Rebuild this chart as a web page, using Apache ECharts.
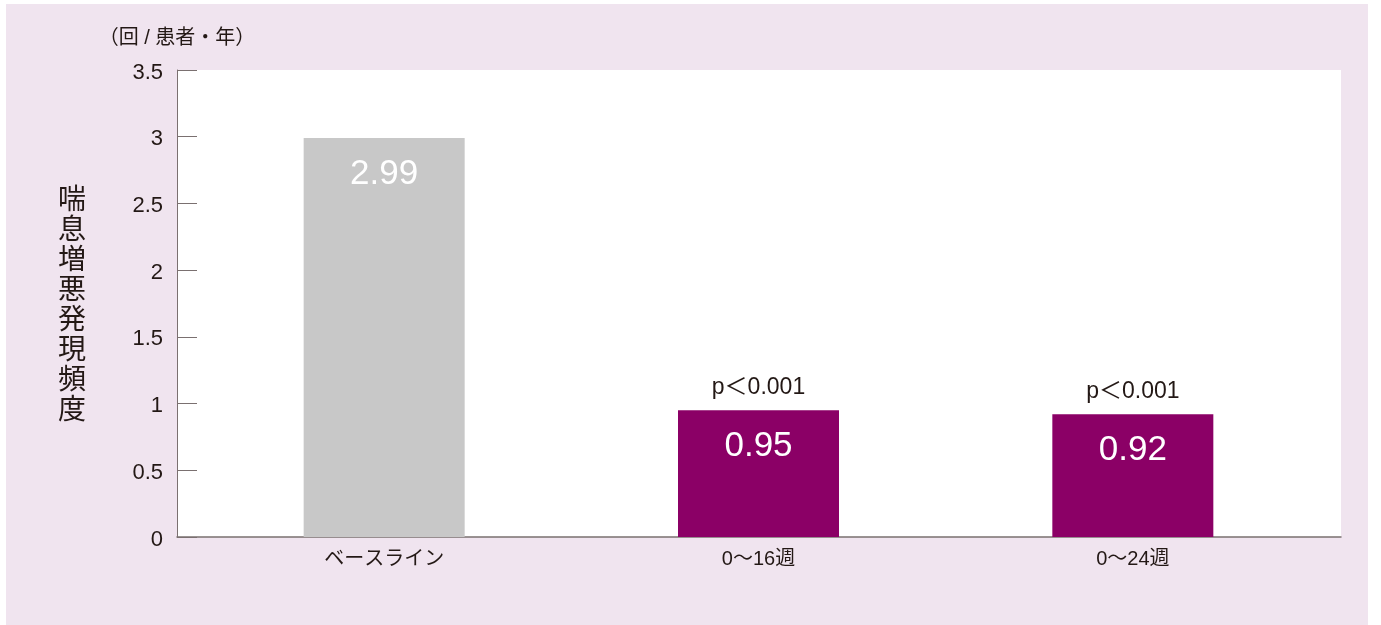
<!DOCTYPE html>
<html>
<head>
<meta charset="utf-8">
<script src="https://cdn.jsdelivr.net/npm/echarts@6/dist/echarts.min.js"></script>
<style>
  html, body { margin: 0; padding: 0; background: #ffffff; }
  #panel { position: absolute; left: 6px; top: 4px; width: 1362px; height: 621px; background: #f0e4ef; }
  #chart { position: absolute; left: 0; top: 0; width: 1381px; height: 625px; }
</style>
</head>
<body>
<div id="panel"></div>
<div id="chart"></div>
<script>
// Exacerbation rate per patient-year
const categories = ['ベースライン', '0〜16週', '0〜24週'];
const rates = [2.99, 0.95, 0.92];
const pLabels = ['', 'p＜0.001', 'p＜0.001'];
const yTicks = { min: 0, max: 3.5, interval: 0.5 };

const GRAY = '#c8c8c8';
const PURPLE = '#8b0066';
const INK = '#231815';
const AXIS = '#7a7070';
const FONT = "'Liberation Sans', 'Noto Sans CJK JP', sans-serif";

const barColors = [GRAY, PURPLE, PURPLE];

const chart = echarts.init(document.getElementById('chart'), null, { renderer: 'canvas' });

chart.setOption({
  backgroundColor: 'transparent',
  textStyle: { fontFamily: FONT, color: INK },
  grid: [
    // bar area
    { left: 197, right: 61, top: 70, bottom: 88 },
    // white plotting panel with the baseline axis
    { left: 177, right: 40, top: 70, bottom: 88, show: true, backgroundColor: '#ffffff', borderWidth: 0 }
  ],
  xAxis: [
    {
      type: 'category', gridIndex: 0, data: categories,
      axisLine: { show: false }, axisTick: { show: false },
      axisLabel: { margin: 12, fontSize: 20, color: INK, fontFamily: FONT }
    },
    {
      type: 'value', gridIndex: 1, min: 0, max: 1,
      axisLine: { show: true, lineStyle: { color: AXIS, width: 1.5 } },
      axisTick: { show: false }, axisLabel: { show: false }, splitLine: { show: false }
    }
  ],
  yAxis: [
    {
      type: 'value', gridIndex: 0,
      min: yTicks.min, max: yTicks.max, interval: yTicks.interval,
      offset: 20,
      axisLine: { show: true, lineStyle: { color: AXIS, width: 1 } },
      axisTick: { show: true, inside: true, length: 20, lineStyle: { color: AXIS, width: 1 } },
      axisLabel: {
        margin: 14, fontSize: 22, color: INK, fontFamily: FONT,
        verticalAlign: 'top', lineHeight: 5
      },
      splitLine: { show: false },
      name: '（回 / 患者・年）',
      nameLocation: 'end',
      nameGap: 22,
      nameTextStyle: { fontSize: 20, color: INK, align: 'center', fontFamily: FONT }
    },
    {
      type: 'value', gridIndex: 1,
      min: yTicks.min, max: yTicks.max,
      axisLine: { show: false }, axisTick: { show: false },
      axisLabel: { show: false }, splitLine: { show: false },
      name: '喘息増悪発現頻度'.split('').join('\n'),
      nameLocation: 'middle',
      nameRotate: 0,
      nameGap: 105,
      nameTextStyle: {
        fontSize: 28, lineHeight: 30, color: INK, align: 'center',
        verticalAlign: 'middle', fontFamily: "'Noto Sans CJK JP', sans-serif",
        padding: [12, 0, 0, 0]
      }
    }
  ],
  series: [
    {
      type: 'bar', xAxisIndex: 0, yAxisIndex: 0,
      barWidth: 161,
      data: rates.map((v, i) => ({ value: v, itemStyle: { color: barColors[i] } })),
      label: {
        show: true, position: 'insideTop', distance: 19,
        color: '#ffffff', fontSize: 35, fontFamily: FONT,
        formatter: p => rates[p.dataIndex].toFixed(2)
      },
      z: 3
    },
    {
      type: 'bar', xAxisIndex: 0, yAxisIndex: 0,
      barWidth: 161, barGap: '-100%', silent: true,
      data: rates,
      itemStyle: { color: 'rgba(0,0,0,0)' },
      label: {
        show: true, position: 'top', distance: 11,
        color: INK, fontSize: 23, fontFamily: FONT,
        formatter: p => pLabels[p.dataIndex]
      },
      z: 4
    }
  ]
});
</script>
</body>
</html>
